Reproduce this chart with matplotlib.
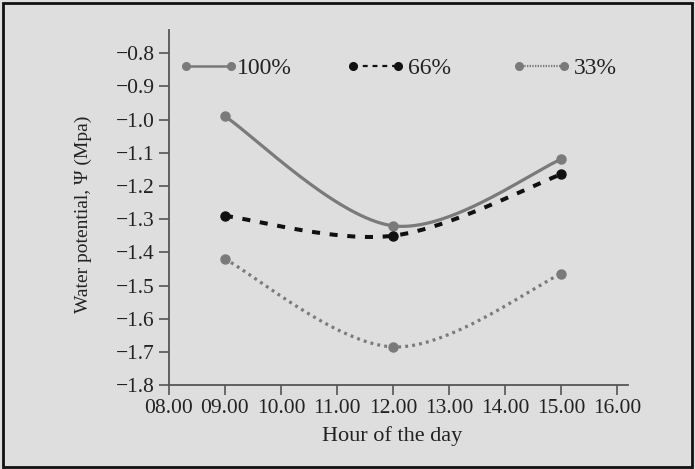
import numpy as np
import matplotlib
matplotlib.use("Agg")
import matplotlib.pyplot as plt
from matplotlib.patches import Rectangle
from matplotlib.legend import Legend

hours = [9.0, 12.0, 15.0]
wp_100 = [-0.99, -1.32, -1.12]
wp_66 = [-1.29, -1.35, -1.165]
wp_33 = [-1.42, -1.685, -1.465]
series_labels = ["100%", "66%", "33%"]
xticks = [8, 9, 10, 11, 12, 13, 14, 15, 16]
yticks = [-0.8, -0.9, -1.0, -1.1, -1.2, -1.3, -1.4, -1.5, -1.6, -1.7, -1.8]


def smooth(xv, yv, n=80):
    """Spreadsheet-style smoothed line (cubic Bezier through the points)."""
    P = np.column_stack([xv, yv]).astype(float)
    Pe = np.vstack([P[0], P, P[-1]])
    out = []
    t = np.linspace(0, 1, n)[:, None]
    for i in range(len(P) - 1):
        p0, p3 = P[i], P[i + 1]
        c1 = p0 + (Pe[i + 2] - Pe[i]) / 6.0
        c2 = p3 - (Pe[i + 3] - Pe[i + 1]) / 6.0
        seg = ((1 - t) ** 3) * p0 + 3 * ((1 - t) ** 2) * t * c1 + 3 * (1 - t) * t ** 2 * c2 + t ** 3 * p3
        out.append(seg if i == 0 else seg[1:])
    out = np.vstack(out)
    return out[:, 0], out[:, 1]


plt.rcParams['font.family'] = ['Liberation Serif', 'DejaVu Serif']
bg = '#dedede'
fs = 15.5
lfs = 17
txt = '#222222'
fig = plt.figure(figsize=(6.95, 4.69), dpi=100, facecolor=bg)
fig.patches.append(Rectangle((0.004, 0.004), 0.992, 0.989, transform=fig.transFigure,
                             fill=False, edgecolor='#111111', linewidth=2))
ax = fig.add_axes([0.243, 0.179, 0.661, 0.757])
ax.set_facecolor(bg)

styles = [
    dict(color='#7a7a7a', ls=(0, ()), lw=2.3, leg_ls='-', leg_lw=1.8),
    dict(color='#111111', ls=(0, (2.0, 2.4)), lw=2.9, leg_ls=(0, (2.2, 2.2)), leg_lw=1.6),
    dict(color='#7a7a7a', ls=(0, (0.9, 1.3)), lw=2.3, leg_ls=(0, (0.6, 0.6)), leg_lw=1.6),
]
leg_x = [0.0217, 0.3852, 0.7466]
leg_pad = [-0.07, 0.125, 0.125]
for vals, lab, st, lx, lp in zip([wp_100, wp_66, wp_33], series_labels, styles, leg_x, leg_pad):
    xs, ys = smooth(hours, vals)
    ax.plot(xs, ys, color=st['color'], linestyle=st['ls'], lw=st['lw'], zorder=2)
    ax.plot(hours, vals, 'o', color=st['color'], ms=6.5, zorder=3)
    h, = ax.plot([], [], color=st['color'], linestyle=st['leg_ls'], lw=st['leg_lw'],
                 marker='o', ms=5.5)
    leg = Legend(ax, [h], [lab], frameon=False, loc='center left',
                 bbox_to_anchor=(lx, 0.8925), fontsize=lfs, handlelength=2.51,
                 handletextpad=lp, borderaxespad=0, borderpad=0, numpoints=2)
    for t in leg.get_texts():
        t.set_color(txt)
    ax.add_artist(leg)

ax.set_xlim(8, 16.2)
ax.set_ylim(-1.8, -0.73)
ax.set_xticks(xticks)
ax.set_xticklabels([f"{h:05.2f}" for h in xticks])
ax.set_yticks(yticks)
ax.set_yticklabels([f"\u2212{abs(v):.1f}" for v in yticks])
for s in ['top', 'right']:
    ax.spines[s].set_visible(False)
for s in ['left', 'bottom']:
    ax.spines[s].set_color('#555555')
    ax.spines[s].set_linewidth(1.3)
ax.tick_params(axis='both', length=7.2, width=1.2, color='#555555', labelsize=fs,
               labelcolor=txt)
ax.tick_params(axis='x', pad=2.5)
ax.tick_params(axis='y', pad=3)
ax.set_xlabel("Hour of the day", fontsize=16, color=txt)
ax.xaxis.set_label_coords(0.486, -0.115)
ax.set_ylabel("Water potential, \u03a8 (Mpa)", fontsize=14, color=txt)
ax.yaxis.set_label_coords(-0.167, 0.482)

fig.savefig("out.png", dpi=100, facecolor=bg)
